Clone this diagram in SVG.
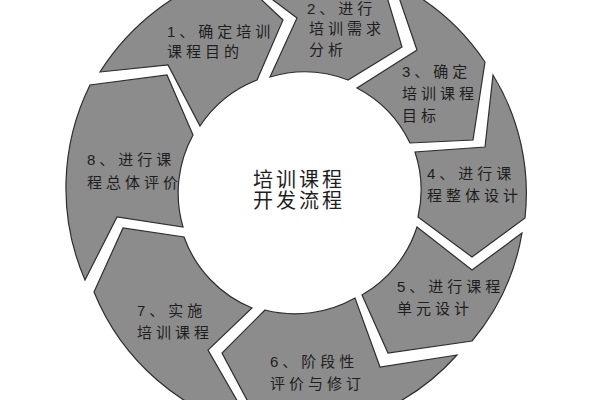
<svg xmlns="http://www.w3.org/2000/svg" width="600" height="400" viewBox="0 0 600 400">
<style>
.seg{fill:#8c8c8c;stroke:#2e2e2e;stroke-width:1.2;stroke-linejoin:miter}
.lbl{font-family:"Liberation Sans","Noto Sans CJK SC",sans-serif;font-size:15px;letter-spacing:4px;fill:#1e1e1e}
.ctr{font-family:"Liberation Sans","Noto Sans CJK SC",sans-serif;font-size:20px;letter-spacing:3px;fill:#1e1e1e}
</style>
<rect x="0" y="0" width="600" height="400" fill="#ffffff"/>
<g id="connectors"></g>
<g id="seg1">
<path class="seg" d="M100,72 L168,65 L200,126 A121 121 0 0 1 257,80 L283,20 L232,-28 A234 234 0 0 0 100,72 Z"/>
<text class="lbl" x="167" y="37">1、确定培训</text>
<text class="lbl" x="167" y="57">课程目的</text>
</g>
<g id="seg2">
<path class="seg" d="M237,-27 L297,18 L270,77 A121 121 0 0 1 348,80 L402,47 L381,-23 A232 232 0 0 0 237,-27 Z"/>
<text class="lbl" x="307" y="14">2、进行</text>
<text class="lbl" x="309" y="34">培训需求</text>
<text class="lbl" x="309" y="55">分析</text>
</g>
<g id="seg3">
<path class="seg" d="M394,-17 L417,50 L357,88 A121 121 0 0 1 410,143 L473,140 L485,62 A230 230 0 0 0 394,-17 Z"/>
<text class="lbl" x="402" y="77">3、确定</text>
<text class="lbl" x="402" y="99">培训课程</text>
<text class="lbl" x="402" y="121">目标</text>
</g>
<g id="seg4">
<path class="seg" d="M493,75 L485,147 L415,152 A121 121 0 0 1 418,217 L472,257 L525,218 A226 226 0 0 0 493,75 Z"/>
<text class="lbl" x="427" y="179">4、进行课</text>
<text class="lbl" x="427" y="201">程整体设计</text>
</g>
<g id="seg5">
<path class="seg" d="M522,233 L472,270 L417,227 A121 121 0 0 1 362,295 L388,353 L472,341 A226 226 0 0 0 522,233 Z"/>
<text class="lbl" x="397" y="292">5、进行课程</text>
<text class="lbl" x="397" y="314">单元设计</text>
</g>
<g id="seg6">
<path class="seg" d="M457,355 L380,367 L355,298 A121 121 0 0 1 265,310 L222,353 L263,430 A228 228 0 0 0 457,355 Z"/>
<text class="lbl" x="270" y="367">6、阶段性</text>
<text class="lbl" x="270" y="389">评价与修订</text>
</g>
<g id="seg7">
<path class="seg" d="M254,430 L208,350 L252,308 A121 121 0 0 1 184,237 L123,228 L94,292 A232 232 0 0 0 254,430 Z"/>
<text class="lbl" x="137" y="316">7、实施</text>
<text class="lbl" x="137" y="338">培训课程</text>
</g>
<g id="seg8">
<path class="seg" d="M85,280 L117,217 L183,227 A121 121 0 0 1 193,135 L167,75 L90,85 A232 232 0 0 0 85,280 Z"/>
<text class="lbl" x="87" y="165">8、进行课</text>
<text class="lbl" x="87" y="188">程总体评价</text>
</g>
<g id="center">
<text class="ctr" x="253" y="187">培训课程</text>
<text class="ctr" x="253" y="208">开发流程</text>
</g>
</svg>
